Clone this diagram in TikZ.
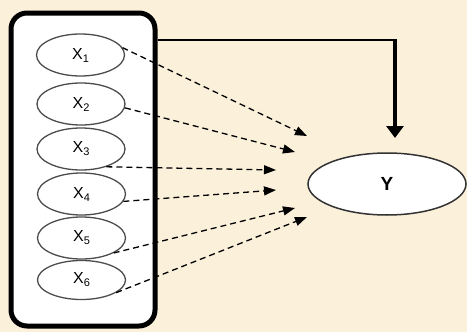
\documentclass[tikz,border=0pt]{standalone}
\usepackage{fontspec}
\setmainfont{Liberation Sans}
\usetikzlibrary{shapes.geometric,arrows.meta}
\definecolor{bg}{HTML}{FBF0DA}
\newcommand{\xlab}[1]{X\raisebox{-3pt}{\fontsize{11}{11}\selectfont #1}}
\begin{document}
\begin{tikzpicture}[x=1pt,y=-1pt,
  xnode/.style={ellipse,draw=black!70,line width=1.3pt,fill=white,minimum width=88pt,minimum height=42pt,inner sep=0pt,font=\fontsize{16}{16}\selectfont},
  dasharrow/.style={line width=1.3pt,dash pattern=on 6pt off 4pt,-{Triangle[length=12pt,width=9pt]}}]
\fill[bg] (0,0) rectangle (467,332);
\useasboundingbox (0,0) rectangle (467,332);
\node[draw,line width=5pt,rounded corners=16pt,fill=white,minimum width=144pt,minimum height=313pt,inner sep=0pt] (box) at (83,169.5) {};
\node[xnode] (x1) at (80.5,55) {\xlab{1}};
\node[xnode] (x2) at (81,104) {\xlab{2}};
\node[xnode] (x3) at (81,149) {\xlab{3}};
\node[xnode] (x4) at (81.5,194) {\xlab{4}};
\node[xnode] (x5) at (81.5,238) {\xlab{5}};
\node[xnode,minimum height=39pt] (x6) at (81.5,280) {\xlab{6}};
\node[ellipse,draw=black!80,line width=1.5pt,fill=white,minimum width=158pt,minimum height=62pt,inner sep=0pt,font=\fontsize{19}{19}\selectfont\bfseries] (y) at (387,184) {Y};
\coordinate (e1) at (307,136);
\coordinate (e2) at (295,152);
\coordinate (e3) at (276,170);
\coordinate (e4) at (276,190);
\coordinate (e5) at (295,208);
\coordinate (e6) at (307,217);
\coordinate (tc) at (395,40);
\coordinate (tk) at (395,118);
\coordinate (ty) at (395,138);
\draw[dasharrow] (x1.10) -- (e1);
\draw[dasharrow] (x2.-5) -- (e2);
\draw[dasharrow] (x3.-35) -- (e3);
\draw[dasharrow] (x4.-10) -- (e4);
\draw[dasharrow] (x5.-25) -- (e5);
\draw[dasharrow] (x6.-20) -- (e6);
\draw[line width=2.5pt] (box.east |- tc) -- (tc) -- (tk);
\draw[line width=4pt,-{Triangle[length=12pt,width=17pt]}] ([yshift=1pt]tc) -- (ty);
\end{tikzpicture}
\end{document}
